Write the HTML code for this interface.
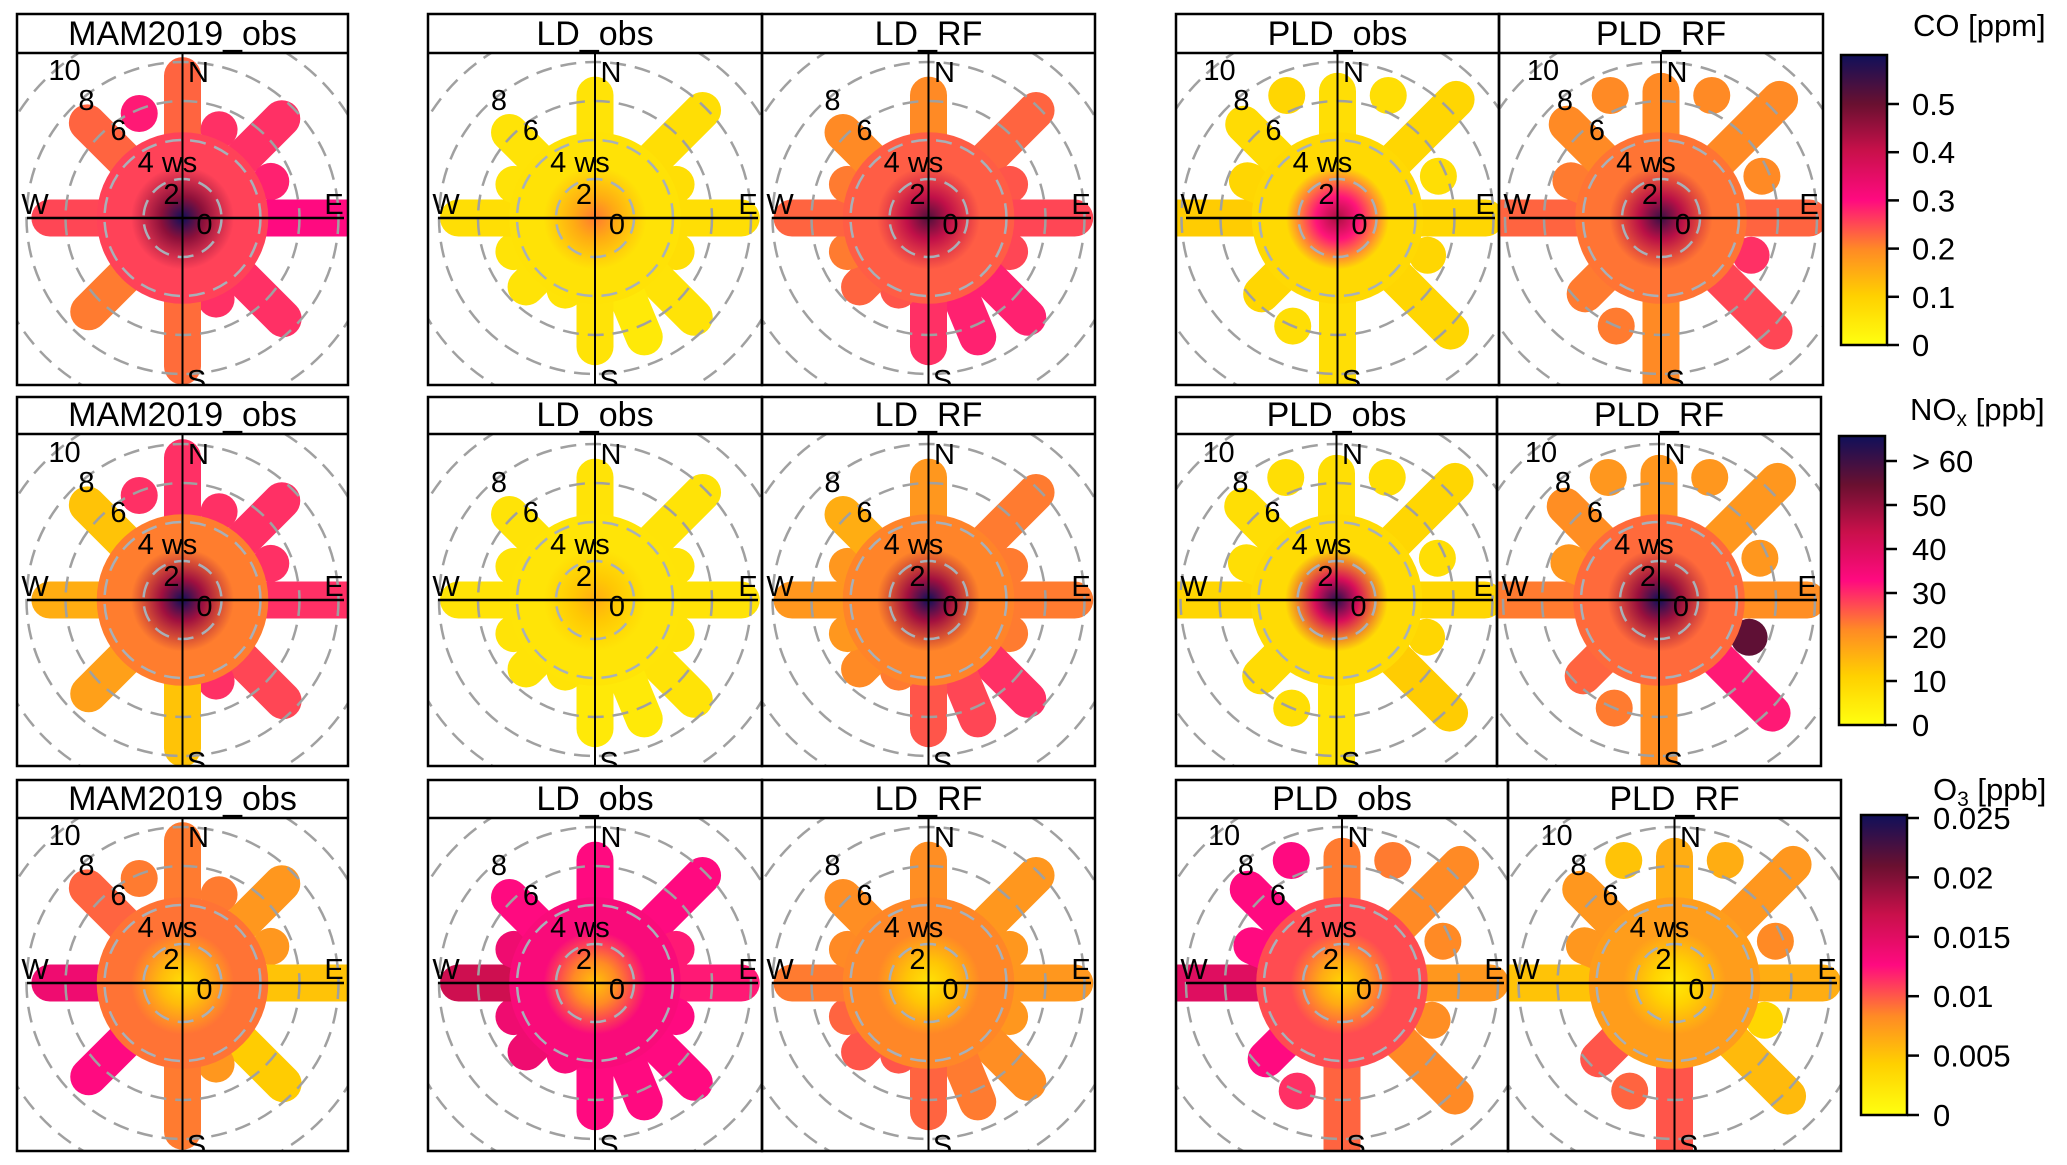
<!DOCTYPE html>
<html><head><meta charset="utf-8">
<style>
html,body{margin:0;padding:0;background:#fff;}
svg{display:block;font-family:"Liberation Sans",Arial,sans-serif;}
</style></head>
<body>
<svg id="chart" width="2067" height="1165" viewBox="0 0 2067 1165" xmlns="http://www.w3.org/2000/svg">
<defs id="defs"></defs>
</svg>
<script>
// ---- data ----
const dirAngles = [0,22.5,45,67.5,90,112.5,135,157.5,180,202.5,225,247.5,270,292.5,315,337.5];
const mamLen   = [7.3,4.9,7.2,4.9,8.6,0,7.3,4.5,7.6,0,6.8,0,6.8,0,6.9,5.8];
const mamStart = [0,4.9,0,4.9,0,0,0,4.5,0,0,0,0,0,0,0,5.8];
const ldLen    = [6.3,0,7.8,4.5,7.5,4.5,7.2,6.6,6.6,4,5,4.5,7,4.5,6.2,0];
const ldStart  = [0,0,0,0,0,0,0,0,0,0,0,0,0,0,0,0];
const pldLen   = [6.5,6.8,8.6,5.6,7.6,5,8.2,0,8.5,6,5.5,0,9,5,6.8,6.8];
const pldStart = [0,6.8,0,5.6,0,5,0,0,0,6,0,0,0,0,0,6.8];

// normalized colour values (0 = yellow, 1 = navy)
const coMamVals   = [0.38,0.45,0.45,0.47,0.5,0.45,0.45,0.45,0.37,0.4,0.35,0.4,0.42,0.4,0.38,0.48];
const coLdObsVals = [0.1,0.1,0.12,0.12,0.12,0.12,0.1,0.08,0.1,0.1,0.1,0.1,0.12,0.1,0.1,0.1];
const coLdRfVals  = [0.33,0.35,0.38,0.4,0.42,0.42,0.47,0.47,0.45,0.4,0.38,0.35,0.38,0.35,0.33,0.35];
const coPldObsVals= [0.12,0.12,0.15,0.12,0.15,0.15,0.15,0.12,0.12,0.12,0.15,0.12,0.18,0.15,0.13,0.15];
const coPldRfVals = [0.33,0.33,0.33,0.33,0.38,0.45,0.42,0.4,0.33,0.35,0.35,0.35,0.38,0.35,0.33,0.33];
const noMamVals   = [0.45,0.45,0.45,0.45,0.45,0.45,0.42,0.45,0.2,0.2,0.28,0.2,0.25,0.2,0.2,0.45];
const noLdObsVals = [0.1,0.1,0.1,0.1,0.1,0.1,0.1,0.08,0.08,0.1,0.1,0.1,0.1,0.1,0.1,0.1];
const noLdRfVals  = [0.3,0.3,0.35,0.35,0.35,0.35,0.45,0.42,0.4,0.35,0.33,0.3,0.3,0.3,0.25,0.3];
const noPldObsVals= [0.12,0.12,0.15,0.12,0.15,0.15,0.18,0.12,0.1,0.12,0.13,0.1,0.15,0.12,0.12,0.12];
const noPldRfVals = [0.3,0.3,0.3,0.3,0.32,0.85,0.48,0.48,0.32,0.35,0.38,0.3,0.35,0.3,0.32,0.3];
const o3MamVals   = [0.35,0.35,0.3,0.3,0.2,0.3,0.18,0.3,0.35,0.45,0.5,0.45,0.55,0.45,0.38,0.35];
const o3LdObsVals = [0.5,0.5,0.5,0.48,0.48,0.5,0.5,0.5,0.5,0.52,0.55,0.55,0.65,0.55,0.5,0.5];
const o3LdRfVals  = [0.32,0.3,0.3,0.3,0.3,0.3,0.32,0.35,0.38,0.4,0.4,0.38,0.35,0.33,0.32,0.3];
const o3PldObsVals= [0.35,0.35,0.33,0.33,0.3,0.32,0.33,0.35,0.38,0.45,0.5,0.5,0.6,0.5,0.5,0.5];
const o3PldRfVals = [0.25,0.25,0.3,0.33,0.25,0.15,0.22,0.3,0.4,0.38,0.4,0.35,0.2,0.3,0.3,0.2];

const panelTitles = ["MAM2019_obs","LD_obs","LD_RF","PLD_obs","PLD_RF"];
const centerVals = [[1.0,0.35,0.88,0.72,0.92],[1.0,0.25,1.0,0.95,1.0],[0.12,0.2,0.1,0.15,0.08]];
const coTicks  = ["0","0.1","0.2","0.3","0.4","0.5"];
const noTicks  = ["0","10","20","30","40","50","> 60"];
const o3Ticks  = ["0","0.005","0.01","0.015","0.02","0.025"];

const cmapStops = [[0,"#ffff10"],[0.17,"#ffd000"],[0.33,"#ff8a25"],[0.5,"#ff0a80"],[0.67,"#c8104a"],[0.83,"#6a1030"],[1,"#10105a"]];

// ---- helpers ----
const NS="http://www.w3.org/2000/svg";
const svg=document.getElementById('chart');
const defs=document.getElementById('defs');
function mk(tag,attrs,parent){const e=document.createElementNS(NS,tag);for(const k in attrs)e.setAttribute(k,attrs[k]);(parent||svg).appendChild(e);return e;}
function hex(h){return [parseInt(h.substr(1,2),16),parseInt(h.substr(3,2),16),parseInt(h.substr(5,2),16)];}
function cmap(v){v=Math.max(0,Math.min(1,v));for(let i=1;i<cmapStops.length;i++){if(v<=cmapStops[i][0]){const a=cmapStops[i-1],b=cmapStops[i];const t=(v-a[0])/(b[0]-a[0]);const ca=hex(a[1]),cb=hex(b[1]);return 'rgb('+ca.map((c,j)=>Math.round(c+(cb[j]-c)*t)).join(',')+')';}}return cmapStops[cmapStops.length-1][1];}
function avg(a){return a.reduce((s,x)=>s+x,0)/a.length;}

const rows=[
 {top:14,strip:53,bot:385,cy:218,vals:[coMamVals,coLdObsVals,coLdRfVals,coPldObsVals,coPldRfVals]},
 {top:397,strip:434,bot:766,cy:600,vals:[noMamVals,noLdObsVals,noLdRfVals,noPldObsVals,noPldRfVals]},
 {top:780,strip:818,bot:1151,cy:983,vals:[o3MamVals,o3LdObsVals,o3LdRfVals,o3PldObsVals,o3PldRfVals]}];
const colsets=[
 [[17,348],[428,762],[762,1095],[1176,1499],[1499,1823]],
 [[17,348],[428,762],[762,1095],[1176,1497],[1497,1821]],
 [[17,348],[428,762],[762,1095],[1176,1508],[1508,1841]]];
const shapes=[[mamLen,mamStart],[ldLen,ldStart],[ldLen,ldStart],[pldLen,pldStart],[pldLen,pldStart]];
const S=19.5; // px per ws
let pid=0;
rows.forEach((row,ri)=>{
 colsets[ri].forEach((c,ci)=>{
  pid++;
  const x0=c[0],x1=c[1],cx=(x0+x1)/2,cy=row.cy;
  const g=mk('g',{});
  
  
  const cp=mk('clipPath',{id:'cp'+pid},defs);
  mk('rect',{x:x0,y:row.strip,width:x1-x0,height:row.bot-row.strip},cp);
  const plot=mk('g',{'clip-path':'url(#cp'+pid+')'},g);
  const vals=row.vals[ci];
  const [lens,starts]=shapes[ci];
  dirAngles.forEach((a,i)=>{
   if(!lens[i])return;
   const r=a*Math.PI/180;
   const r0=starts[i]*S,r1=lens[i]*S;
   const arm=mk('line',{x1:cx+Math.sin(r)*r0,y1:cy-Math.cos(r)*r0,x2:cx+Math.sin(r)*r1,y2:cy-Math.cos(r)*r1,stroke:cmap(vals[i]),'stroke-width':37,'stroke-linecap':'round'},plot);
   
   
  });
  const gid='rg'+pid;
  const rg=mk('radialGradient',{id:gid,cx:'0.5',cy:'0.5',r:'0.5'},defs);
  const base=avg(vals),cv=centerVals[ri][ci];
  mk('stop',{offset:'0','stop-color':cmap(cv)},rg);
  mk('stop',{offset:'0.25','stop-color':cmap(cv*0.6+base*0.4)},rg);
  mk('stop',{offset:'0.6','stop-color':cmap(base)},rg);
  mk('stop',{offset:'1','stop-color':cmap(base)},rg);
  const disk=mk('circle',{cx:cx,cy:cy,r:4.4*S,fill:'url(#'+gid+')'},plot);
  
  
  [2,4,6,8,10].forEach(k=>{
   const ring=mk('circle',{cx:cx,cy:cy,r:k*S,fill:'none',stroke:k<=4?'#a8b0b8':'#a0a0a0','stroke-width':2.5,'stroke-dasharray':'16 9'},plot);
   
   
  });
  mk('line',{x1:x0+10,y1:cy,x2:x1-4,y2:cy,stroke:'#000','stroke-width':2.5},plot);
  mk('line',{x1:cx,y1:row.strip,x2:cx,y2:row.bot,stroke:'#000','stroke-width':2},plot);
  const lab=[["N",cx+16,cy-136],["S",cx+14,cy+172],["W",x0+18,cy-4],["E",x1-14,cy-4],["0",cx+22,cy+16],["2",cx-11,cy-14],["4 ws",cx-15,cy-46],["6",cx-64,cy-78],["8",cx-96,cy-108]];
  if(ci===0||ci>=3)lab.push(["10",cx-118,cy-138]);
  lab.forEach(l=>{const t=mk('text',{x:l[1],y:l[2],'font-size':29,'text-anchor':'middle',fill:'#000'},plot);t.textContent=l[0];
   
   });
  mk('rect',{x:x0,y:row.top,width:x1-x0,height:row.bot-row.top,fill:'none',stroke:'#000','stroke-width':2.5},g);
  mk('line',{x1:x0,y1:row.strip,x2:x1,y2:row.strip,stroke:'#000','stroke-width':2.5},g);
  const tt=mk('text',{x:cx,y:row.strip-8,'font-size':34,'text-anchor':'middle'},g);
  tt.textContent=panelTitles[ci];
  
  
 });
});

// colorbars
function colorbar(name,x,yTop,yBot,yZero,step,ticks,title,tx,ty,labx){
 const g=mk('g',{});
 
 
 const gid='cb'+name;
 const lg=mk('linearGradient',{id:gid,x1:'0',y1:'1',x2:'0',y2:'0'},defs);
 cmapStops.forEach(s=>mk('stop',{offset:s[0],'stop-color':s[1]},lg));
 mk('rect',{x:x,y:yTop,width:46,height:yBot-yTop,fill:'url(#'+gid+')',stroke:'#000','stroke-width':2.5},g);
 ticks.forEach((t,i)=>{const y=yZero-i*step;
  mk('line',{x1:x+46,y1:y,x2:x+58,y2:y,stroke:'#000','stroke-width':2.5},g);
  const tx2=mk('text',{x:labx,y:y+11,'font-size':31},g);tx2.textContent=t;
  
  });
 const tl=mk('text',{x:tx,y:ty,'font-size':31},g);tl.innerHTML=title;
 
 
}
colorbar('co-colorbar',1841,55,345,345,48.2,coTicks,'CO [ppm]',1913,36,1912);
colorbar('nox-colorbar',1839,436,725,725,44,noTicks,'NO<tspan font-size="21" dy="6">x</tspan><tspan dy="-6"> [ppb]</tspan>',1910,420,1912);
colorbar('o3-colorbar',1861,815,1115,1115,59.4,o3Ticks,'O<tspan font-size="21" dy="6">3</tspan><tspan dy="-6"> [ppb]</tspan>',1933,800,1933);
</script>
</body></html>
